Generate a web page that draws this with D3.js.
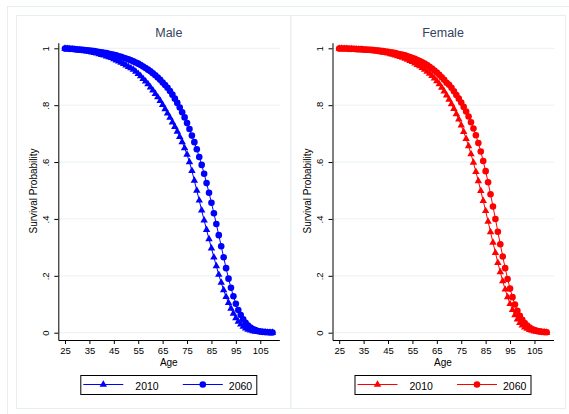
<!DOCTYPE html>
<html>
<head>
<meta charset="utf-8">
<script src="https://cdn.jsdelivr.net/npm/d3@7"></script>
<style>
  body { margin: 0; background: #fff; }
  svg { display: block; font-family: "Liberation Sans", Arial, sans-serif; }
</style>
</head>
<body>
<svg id="chart" width="569" height="414"></svg>
<script>
// ages 25..110, one point per year
const ages = d3.range(25, 111);

const male2010 = [
  .999, .998, .997, .996, .995, .994, .993, .992, .990, .989,
  .988, .986, .984, .982, .980, .977, .975, .972, .969, .966,
  .962, .958, .954, .950, .945, .940, .935, .930, .925, .918,
  .910, .902, .893, .884, .874, .863, .852, .840, .828, .815,
  .801, .786, .771, .756, .740, .724, .707, .689, .670, .649,
  .626, .600, .569, .535, .500, .465, .430, .395, .362, .329,
  .297, .265, .234, .204, .176, .150, .126, .105, .085, .067,
  .051, .039, .029, .021, .015, .011, .008, .006, .004, .003,
  .002, .0015, .001, .0007, .0005, .0003
];
const male2060 = [
  .999, .999, .998, .998, .997, .996, .996, .995, .994, .993,
  .992, .991, .990, .989, .987, .986, .984, .983, .981, .979,
  .977, .975, .972, .970, .967, .964, .961, .958, .954, .950,
  .946, .941, .936, .931, .925, .919, .912, .905, .897, .889,
  .880, .871, .861, .850, .837, .823, .808, .792, .775, .757,
  .737, .716, .693, .670, .645, .618, .590, .559, .526, .492,
  .457, .420, .382, .343, .304, .265, .227, .190, .158, .128,
  .102, .080, .062, .047, .035, .025, .018, .013, .009, .006,
  .004, .003, .002, .0013, .0008, .0005
];
const female2010 = [
  .999, .999, .998, .998, .997, .997, .996, .996, .995, .994,
  .994, .993, .992, .991, .990, .989, .988, .987, .985, .984,
  .982, .980, .978, .975, .973, .970, .967, .964, .960, .956,
  .952, .947, .942, .937, .931, .925, .918, .911, .903, .894,
  .885, .874, .862, .849, .835, .820, .804, .787, .769, .750,
  .729, .706, .682, .656, .628, .598, .566, .533, .499, .464,
  .428, .391, .354, .317, .281, .246, .213, .181, .152, .125,
  .101, .080, .062, .047, .035, .026, .019, .014, .010, .007,
  .005, .0035, .0025, .0017, .0011, .0007
];
const female2060 = [
  .999, .999, .999, .999, .998, .998, .998, .997, .997, .997,
  .996, .996, .995, .995, .994, .993, .992, .991, .990, .989,
  .988, .986, .985, .983, .981, .979, .977, .975, .972, .969,
  .966, .963, .959, .955, .951, .946, .941, .935, .929, .922,
  .915, .907, .898, .889, .879, .872, .861, .849, .836, .823,
  .809, .794, .778, .760, .740, .718, .694, .667, .637, .604,
  .568, .529, .487, .444, .400, .355, .311, .268, .227, .189,
  .155, .125, .099, .077, .059, .045, .034, .025, .018, .013,
  .009, .0065, .0045, .003, .002, .0013
];

const xTicks = [25, 35, 45, 55, 65, 75, 85, 95, 105];
const yTicks = [0, .2, .4, .6, .8, 1];
const years = ["2010", "2060"];

const svg = d3.select("#chart");
const frame = "#e6eef0";

// outer frame
svg.append("rect")
  .attr("x", 7.5).attr("y", 6.5).attr("width", 600).attr("height", 420)
  .attr("fill", "#fff").attr("stroke", frame);

const panels = [
  { title: "Male", color: "#0000ff", box: [16.5, 291], axisX: 58.3, s1: male2010, s2: male2060 },
  { title: "Female", color: "#ff0000", box: [291, 565.5], axisX: 332.5, s1: female2010, s2: female2060 }
];

const yfmt = d => d === 0 ? "0" : d === 1 ? "1" : d3.format(".1f")(d).replace(/^0/, "");

panels.forEach(p => {
  const g = svg.append("g");

  g.append("rect")
    .attr("x", p.box[0]).attr("y", 15.5)
    .attr("width", p.box[1] - p.box[0]).attr("height", 393)
    .attr("fill", "#fff").attr("stroke", frame);

  const x = d3.scaleLinear().domain([22.25, 112.8]).range([p.axisX, p.axisX + 221]);
  const y = d3.scaleLinear().domain([-0.0257, 1.0197]).range([340, 42.7]);
  const mid = (x.range()[0] + x.range()[1]) / 2;

  // gridlines
  g.selectAll(".grid").data(yTicks).join("line")
    .attr("x1", p.axisX).attr("x2", p.axisX + 222)
    .attr("y1", d => y(d)).attr("y2", d => y(d))
    .attr("stroke", "#eaf2f3").attr("stroke-width", 1);

  g.append("text")
    .attr("x", mid).attr("y", 37.3)
    .attr("text-anchor", "middle")
    .attr("font-size", 12.5).attr("fill", "#34425e")
    .text(p.title);

  // series
  const series = [
    { vals: p.s1, sym: d3.symbolTriangle, size: 24 },
    { vals: p.s2, sym: d3.symbolCircle, size: 34 }
  ];
  series.forEach(s => {
    const pts = ages.map((a, i) => [a, s.vals[i]]);
    g.append("path")
      .attr("d", d3.line().x(d => x(d[0])).y(d => y(d[1]))(pts))
      .attr("fill", "none").attr("stroke", p.color).attr("stroke-width", 1);
    g.selectAll(null).data(pts).join("path")
      .attr("transform", d => `translate(${x(d[0])},${y(d[1])})`)
      .attr("d", d3.symbol().type(s.sym).size(s.size))
      .attr("fill", p.color);
  });

  // axes
  const xa = g.append("g").attr("transform", "translate(0,340)")
    .call(d3.axisBottom(x).tickValues(xTicks).tickSize(4).tickSizeOuter(0).tickFormat(d3.format("d")));
  xa.selectAll("text").attr("font-size", 9.5).attr("fill", "#000");

  const ya = g.append("g").attr("transform", `translate(${p.axisX},0)`)
    .call(d3.axisLeft(y).tickValues(yTicks).tickSize(4).tickSizeOuter(0).tickFormat(yfmt));
  ya.selectAll("text")
    .attr("transform", "rotate(-90)")
    .attr("text-anchor", "middle")
    .attr("x", 0).attr("y", -9.8).attr("dy", 0)
    .attr("font-size", 9.5).attr("fill", "#000");
  g.selectAll(".domain, .tick line").attr("stroke", "#000");

  g.append("text")
    .attr("x", mid).attr("y", 365.5)
    .attr("text-anchor", "middle").attr("font-size", 10).attr("fill", "#000")
    .text("Age");

  g.append("text")
    .attr("transform", `translate(${p.axisX - 21.5},191) rotate(-90)`)
    .attr("text-anchor", "middle").attr("font-size", 10).attr("fill", "#000")
    .text("Survival Probability");

  // legend
  const lg = g.append("g").attr("transform", `translate(${mid - 88},375.5)`);
  lg.append("rect").attr("width", 176).attr("height", 19)
    .attr("fill", "#fff").attr("stroke", "#000");
  [0, 1].forEach(i => {
    const ox = 2.5 + i * 99.5;
    lg.append("line")
      .attr("x1", ox).attr("x2", ox + 40).attr("y1", 9).attr("y2", 9)
      .attr("stroke", p.color).attr("stroke-width", 1);
    lg.append("path")
      .attr("transform", `translate(${ox + 20},9)`)
      .attr("d", d3.symbol().type(series[i].sym).size(series[i].size))
      .attr("fill", p.color);
    lg.append("text")
      .attr("x", ox + 52 - i * 6).attr("y", 14)
      .attr("font-size", 10.5).attr("fill", "#000")
      .text(years[i]);
  });
});
</script>
</body>
</html>
